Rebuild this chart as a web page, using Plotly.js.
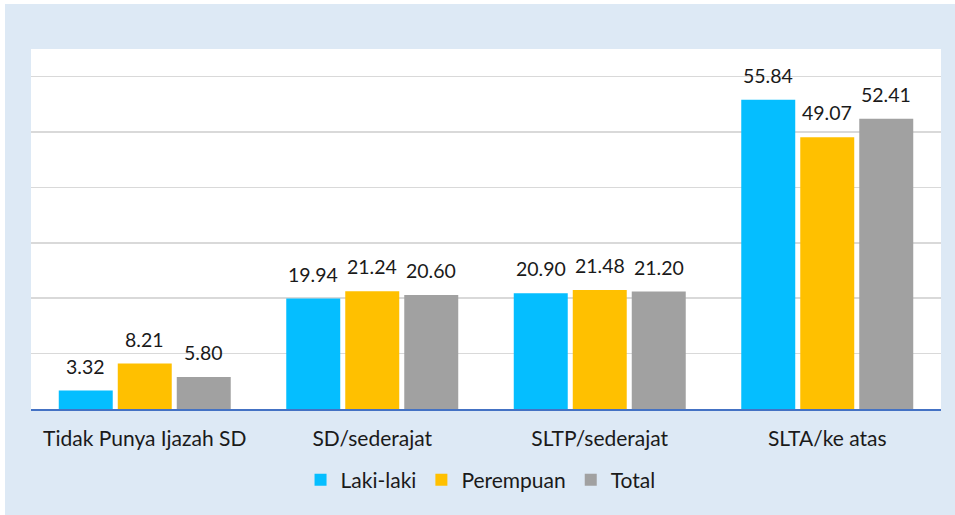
<!DOCTYPE html>
<html>
<head>
<meta charset="utf-8">
<script src="https://cdn.plot.ly/plotly-3.0.1.min.js"></script>
<style>
html,body{margin:0;padding:0;background:#ffffff;}
#chart{position:absolute;left:5px;top:4px;width:950px;height:511px;}
</style>
</head>
<body>
<div id="chart"></div>
<script>
const categories = ["Tidak Punya Ijazah SD", "SD/sederajat", "SLTP/sederajat", "SLTA/ke atas"];
const seriesNames = ["Laki-laki", "Perempuan", "Total"];
const lakiLaki = [3.32, 19.94, 20.90, 55.84];
const perempuan = [8.21, 21.24, 21.48, 49.07];
const total = [5.80, 20.60, 21.20, 52.41];
const colors = ["#05BEFF", "#FFC000", "#A1A1A1"];

const seriesValues = [lakiLaki, perempuan, total];
const font = "Lato, 'Open Sans', sans-serif";

const traces = seriesValues.map((vals, i) => ({
  type: "bar",
  name: seriesNames[i],
  x: categories,
  y: vals,
  marker: {color: colors[i], line: {width: 0}},
  hoverinfo: "x+y+name"
}));

const offsets = [-59, 0, 59];
const annotations = [];
seriesValues.forEach((vals, i) => {
  vals.forEach((v, j) => {
    annotations.push({
      x: categories[j], y: v, xref: "x", yref: "y",
      text: v.toFixed(2), showarrow: false,
      xanchor: "center", yanchor: "bottom",
      xshift: offsets[i], yshift: 11,
      font: {family: font, size: 19.5, color: "#1a1a1a"}
    });
  });
});

const layout = {
  width: 950, height: 511,
  paper_bgcolor: "#DDE9F5",
  plot_bgcolor: "#FFFFFF",
  margin: {l: 26, r: 14, t: 45, b: 106, autoexpand: false},
  barmode: "group",
  bargap: 0.222,
  bargroupgap: 0.085,
  showlegend: true,
  legend: {
    orientation: "h", x: 0.494, xanchor: "center",
    yref: "container", y: 0.0685, yanchor: "middle",
    font: {family: font, size: 21, color: "#1a1a1a"},
    itemwidth: 30, traceorder: "normal", bgcolor: "rgba(0,0,0,0)"
  },
  xaxis: {
    type: "category", automargin: false,
    showline: true, linecolor: "#4472C4", linewidth: 2,
    ticks: "", showgrid: false,
    tickfont: {family: font, size: 21, color: "#1a1a1a"},
    ticklabelstandoff: 10
  },
  yaxis: {
    range: [0, 65], dtick: 10, tick0: 0, automargin: false,
    showticklabels: false, showgrid: true,
    gridcolor: "#D9D9D9", gridwidth: 1.5,
    zeroline: false, showline: false, ticks: ""
  },
  annotations: annotations
};

Plotly.newPlot("chart", traces, layout, {displayModeBar: false, staticPlot: true});
</script>
</body>
</html>
